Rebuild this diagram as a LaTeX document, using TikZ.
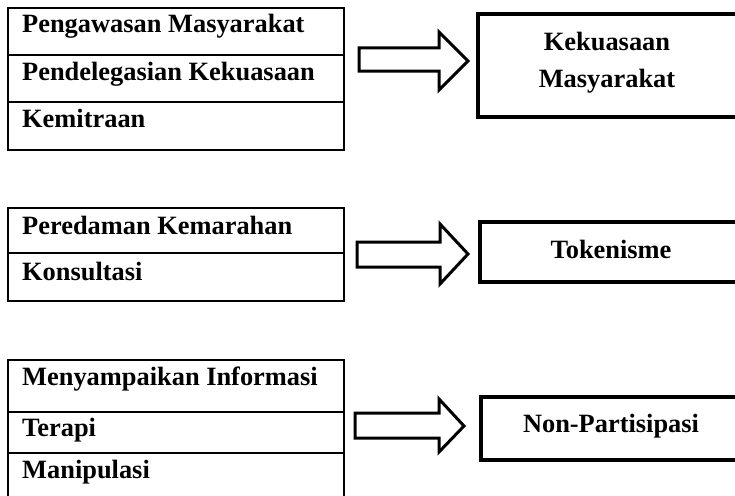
\documentclass[tikz,border=0pt]{standalone}
\usepackage{fontspec}
\setmainfont{Liberation Serif}
\usetikzlibrary{shadows}
\begin{document}
\begin{tikzpicture}[x=1pt,y=-1pt,
  cell/.style={anchor=base west, inner sep=0pt, font=\bfseries\fontsize{26.4}{30}\selectfont},
  tbl/.style={draw, line width=2pt, anchor=north west, inner sep=0pt},
  rowline/.style={line width=2pt},
  box/.style={draw, fill=white, line width=4pt, anchor=north west, inner sep=0pt,
    drop shadow={shadow xshift=1.5pt, shadow yshift=-2pt, opacity=0.25, fill=black}},
  blk/.style={line width=3pt, line join=miter},
  lbl/.style={font=\bfseries\fontsize{26.4}{37}\selectfont, align=center, inner sep=0pt}]
\clip (0,0) rectangle (735,495);
\fill[white] (0,0) rectangle (735,495);

% ---------- top group ----------
\node[tbl, minimum width=336pt, minimum height=142pt] (t1) at (7,7) {};
\draw[rowline] (7,55) -- (343,55);
\draw[rowline] (7,102) -- (343,102);
\node[cell] (a1) at (22,33) {Pengawasan Masyarakat};
\node[cell] (a2) at (22,80) {Pendelegasian Kekuasaan};
\node[cell] (a3) at (22,127) {Kemitraan};
\draw[blk] (359,48) -- (439,48) -- (439,32) -- (468,61) -- (439,90) -- (439,71) -- (359,71) -- cycle;
\node[box, minimum width=300pt, minimum height=103pt] (b1) at (476,12) {};
\node[lbl] (l1) at (607,62.4) {Kekuasaan\\Masyarakat};

% ---------- middle group ----------
\node[tbl, minimum width=336pt, minimum height=93pt] (t2) at (7,207) {};
\draw[rowline] (7,253) -- (343,253);
\node[cell] (m1) at (22,234) {Peredaman Kemarahan};
\node[cell] (m2) at (22,280) {Konsultasi};
\draw[blk] (357,242) -- (440,242) -- (440,224) -- (468,254) -- (440,284) -- (440,267) -- (357,267) -- cycle;
\node[box, minimum width=300pt, minimum height=60pt] (b2) at (478,220) {};
\node[lbl, anchor=base] (l2) at (611,258) {Tokenisme};

% ---------- bottom group ----------
\node[tbl, minimum width=336pt, minimum height=160pt] (t3) at (7,359) {};
\draw[rowline] (7,412) -- (343,412);
\draw[rowline] (7,453) -- (343,453);
\node[cell] (n1) at (22,385) {Menyampaikan Informasi};
\node[cell] (n2) at (22,436) {Terapi};
\node[cell] (n3) at (22,478) {Manipulasi};
\draw[blk] (355,413) -- (439,413) -- (439,399) -- (464,426) -- (439,452) -- (439,438) -- (355,438) -- cycle;
\node[box, minimum width=300pt, minimum height=63pt] (b3) at (479,395) {};
\node[lbl, anchor=base] (l3) at (611,432) {Non-Partisipasi};
\end{tikzpicture}
\end{document}
